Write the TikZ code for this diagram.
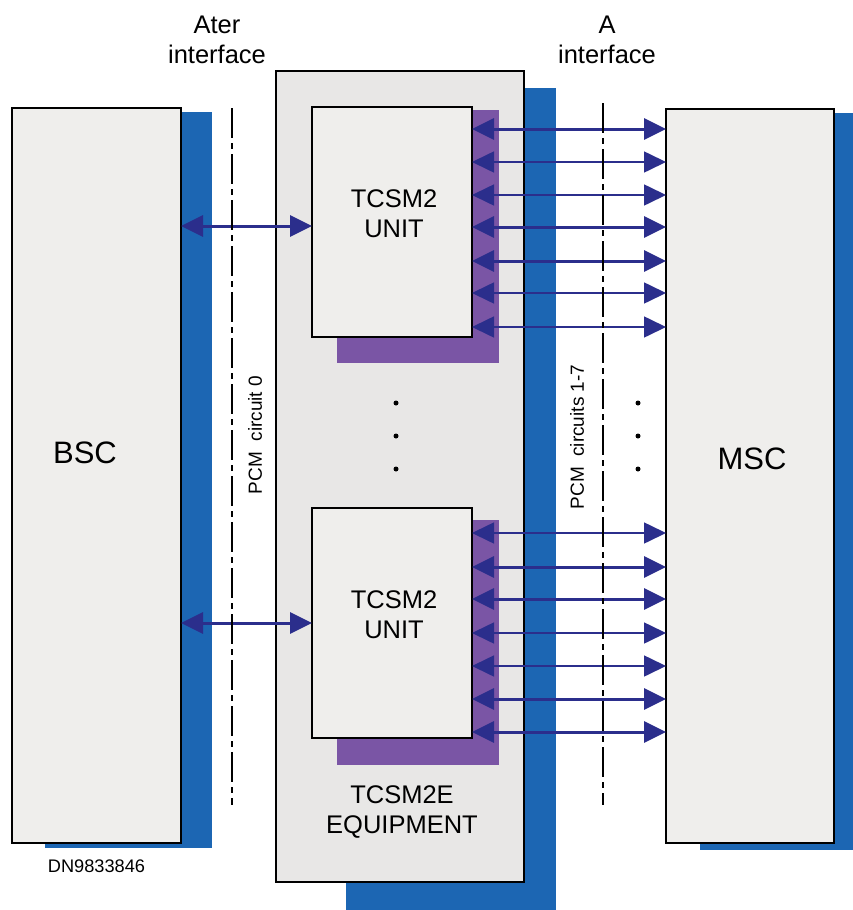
\documentclass[tikz,border=0pt]{standalone}
\usepackage{fontspec}
\setmainfont{Liberation Sans}
\usetikzlibrary{arrows.meta}
\definecolor{boxfill}{HTML}{EFEEEC}
\definecolor{equipfill}{HTML}{E8E7E6}
\definecolor{shadowblue}{HTML}{1C66B3}
\definecolor{shadowpurple}{HTML}{7A55A5}
\definecolor{arrowc}{HTML}{2B2E8C}
\begin{document}
\begin{tikzpicture}[x=1pt,y=-1pt,
  box/.style={draw=black, line width=2pt, fill=boxfill, anchor=north west, inner sep=0pt, outer sep=0pt},
  bigtext/.style={font=\fontsize{31}{36}\selectfont, inner sep=0pt},
  lbl/.style={font=\fontsize{25.5}{30}\selectfont, align=center, inner sep=0pt},
  pcm/.style={font=\fontsize{19}{22}\selectfont, rotate=90, inner sep=0pt},
  link/.style={draw=arrowc, {Triangle[length=22pt,width=21pt]}-{Triangle[length=22pt,width=21pt]}},
  thk/.style={line width=3pt},
  thn/.style={line width=1.6pt},
  dashline/.style={line width=2pt, dash pattern=on 30pt off 5pt on 6pt off 5pt},
  dotmark/.style={fill=black}
]
\useasboundingbox (0,0) rectangle (853,910);
\fill[white] (0,0) rectangle (853,910);

% shadows
\fill[shadowblue] (45,112) rectangle (212,848);
\fill[shadowblue] (346,88) rectangle (556,910);
\fill[shadowblue] (700,113) rectangle (862,850);

% main boxes
\node[box, minimum width=169pt, minimum height=735pt] (bsc) at (12,108) {};
\node[box, fill=equipfill, line width=2.4pt, minimum width=248pt, minimum height=811pt] (equip) at (276,71) {};
\node[box, line width=1.6pt, minimum width=168pt, minimum height=734pt] (msc) at (666,109) {};

% unit shadows
\fill[shadowpurple] (337,110) rectangle (499,363);
\fill[shadowpurple] (337,520) rectangle (499,765);

% units
\node[box, minimum width=160pt, minimum height=230pt] (unit1) at (312,107) {};
\node[box, minimum width=160pt, minimum height=230pt] (unit2) at (312,508) {};

% texts
\node[bigtext] (bsclbl) at (85,453) {BSC};
\node[bigtext] (msclbl) at (752,459) {MSC};
\node[lbl] (u1lbl) at (394,214) {TCSM2\\UNIT};
\node[lbl] (u2lbl) at (394,615) {TCSM2\\UNIT};
\node[lbl] (eqlbl) at (402,812) {TCSM2E\\EQUIPMENT};
\node[lbl] (aterlbl) at (217,40) {Ater\\interface};
\node[lbl] (albl) at (607,40) {A\\interface};
\node[font=\fontsize{18.2}{22}\selectfont, inner sep=0pt] (dn) at (96.5,866.5) {DN9833846};
\node[pcm] (pcm0) at (255,435) {PCM\ \ circuit 0};
\node[pcm] (pcm17) at (577,437) {PCM\ \ circuits 1-7};

% connectors BSC - units
\draw[link, thk] (bsc.east |- 0,226) -- (unit1.west |- 0,226);
\draw[link, thk] (bsc.east |- 0,623) -- (unit2.west |- 0,623);

% connectors units - MSC
\foreach \yy/\st in {129/thk,162/thn,195/thn,227/thk,261/thk,293/thn,327/thn}
  \draw[link, \st] (unit1.east |- 0,\yy) -- (msc.west |- 0,\yy);
\foreach \yy/\st in {533/thn,567/thk,599/thk,633/thn,666/thn,699/thk,732/thk}
  \draw[link, \st] (unit2.east |- 0,\yy) -- (msc.west |- 0,\yy);

% interface lines
\coordinate (atertop) at (232,108);
\coordinate (aterbot) at (232,805);
\coordinate (atop) at (603,103);
\coordinate (abot) at (603,805);
\draw[dashline] (atertop) -- (aterbot);
\draw[dashline] (atop) -- (abot);

% dots
\foreach \yy in {403,436,469} {
  \fill[dotmark] (396,\yy) circle (2.5pt);
  \fill[dotmark] (638,\yy) circle (2.5pt);
}
\end{tikzpicture}
\end{document}
